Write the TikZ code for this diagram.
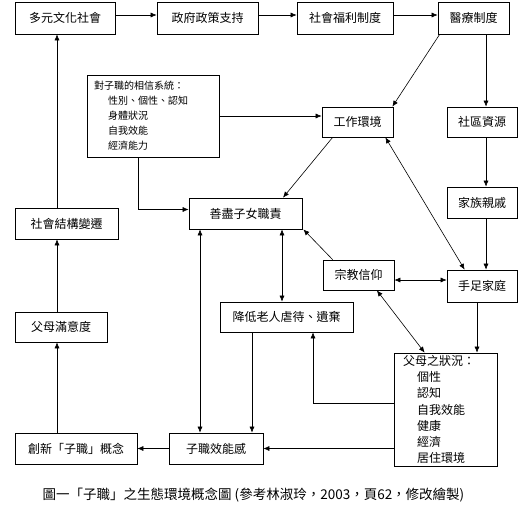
\documentclass[tikz,border=0pt]{standalone}
\usepackage{fontspec}
\setmainfont{Noto Sans CJK TC}
\usetikzlibrary{arrows.meta,calc}
\begin{document}
\begin{tikzpicture}[x=1pt,y=-1pt,
  box/.style={draw,line width=0.7pt,inner sep=0pt,font=\fontsize{12}{14}\selectfont},
  arr/.style={line width=0.6pt,-{Latex[length=6pt,width=5pt]}},
  darr/.style={line width=0.6pt,{Latex[length=6pt,width=5pt]}-{Latex[length=6pt,width=5pt]}}]
\useasboundingbox (0,0) rectangle (532,512);
% boxes
\node[box,minimum width=100pt,minimum height=32pt] (A) at (65,18) {多元文化社會};
\node[box,minimum width=101pt,minimum height=32pt] (B) at (207.5,18) {政府政策支持};
\node[box,minimum width=96pt,minimum height=32pt] (C) at (345,18) {社會福利制度};
\node[box,minimum width=71pt,minimum height=32pt] (D) at (473.5,18) {醫療制度};
\node[box,minimum width=132pt,minimum height=82pt,align=left,text width=118pt,
      font=\fontsize{10}{15}\selectfont] (E) at (153,116)
  {對子職的相信系統：\\
   \hspace*{14pt}性別、個性、認知\\
   \hspace*{14pt}身體狀況\\
   \hspace*{14pt}自我效能\\
   \hspace*{14pt}經濟能力};
\node[box,minimum width=71pt,minimum height=30pt] (F) at (357.5,122) {工作環境};
\node[box,minimum width=70pt,minimum height=30pt] (G) at (482,122) {社區資源};
\node[box,minimum width=70pt,minimum height=31pt] (H) at (482,202.5) {家族親戚};
\node[box,minimum width=103pt,minimum height=31pt] (I) at (66.5,223.5) {社會結構變遷};
\node[box,minimum width=113pt,minimum height=31pt] (J) at (245.5,213.5) {善盡子女職責};
\node[box,minimum width=71pt,minimum height=30pt] (K) at (358.5,275) {宗教信仰};
\node[box,minimum width=70pt,minimum height=32pt] (L) at (482,286) {手足家庭};
\node[box,minimum width=133pt,minimum height=30pt] (M) at (286.5,317) {降低老人虐待、遺棄};
\node[box,minimum width=92pt,minimum height=30pt] (N) at (61,327) {父母滿意度};
\node[box,minimum width=103pt,minimum height=113pt,align=left,text width=85pt,
      font=\fontsize{12}{16.2}\selectfont] (O) at (445.5,409.5)
  {父母之狀況：\\
   \hspace*{14pt}個性\\
   \hspace*{14pt}認知\\
   \hspace*{14pt}自我效能\\
   \hspace*{14pt}健康\\
   \hspace*{14pt}經濟\\
   \hspace*{14pt}居住環境};
\node[box,minimum width=122pt,minimum height=31pt] (P) at (76,448.5) {創新「子職」概念};
\node[box,minimum width=94pt,minimum height=31pt] (Q) at (216,448.5) {子職效能感};
\node[font=\fontsize{13.5}{15}\selectfont] (cap) at (253.5,495)
  {圖一「子職」之生態環境概念圖 (參考林淑玲，2003，頁62，修改繪製)};
% helper coordinates
\coordinate (vx) at (486,0);
\coordinate (lx) at (57,0);
\coordinate (ex) at (138,0);
\coordinate (jm) at (282,0);
\coordinate (jq) at (200,0);
\coordinate (mq) at (252,0);
\coordinate (om) at (313,403);
\coordinate (lo) at (477,0);
\coordinate (kl) at (0,280);
% connectors
\draw[arr] ([yshift=3pt]A.east) -- ([yshift=3pt]B.west);
\draw[arr] ([yshift=3pt]B.east) -- ([yshift=3pt]C.west);
\draw[arr] ([yshift=3pt]C.east) -- ([yshift=3pt]D.west);
\draw[arr] ([xshift=2pt]D.south west) -- ([xshift=-1pt]F.north east);
\draw[arr] (D.south -| vx) -- (G.north -| vx);
\draw[arr] (G.south -| vx) -- (H.north -| vx);
\draw[arr] (H.south -| vx) -- (L.north -| vx);
\draw[arr] (E.east) -- (E.east -| F.west);
\draw[arr] (E.south -| ex) |- ([yshift=4pt]J.west);
\draw[arr] ([xshift=11pt]F.south west) -- ([xshift=37.5pt]J.north);
\draw[darr] ([xshift=-8pt]F.south east) -- ([xshift=18pt]L.north west);
\draw[arr] ([xshift=10pt]K.north west) -- ([xshift=1pt]J.south east);
\draw[darr] (K.east |- kl) -- (L.west |- kl);
\draw[darr] (J.south -| jm) -- (M.north -| jm);
\draw[darr] (J.south -| jq) -- (Q.north -| jq);
\draw[darr] ([xshift=-17.5pt]K.south east) -- ([xshift=31pt]O.north west);
\draw[arr] (L.south -| lo) -- (O.north -| lo);
\draw[arr] (O.west |- om) -| (M.south -| om);
\draw[arr] (M.south -| mq) -- (Q.north -| mq);
\draw[arr] (O.west |- Q.east) -- (Q.east);
\draw[arr] (Q.west) -- (P.east);
\draw[arr] (P.north -| lx) -- (N.south -| lx);
\draw[arr] (N.north -| lx) -- (I.south -| lx);
\draw[arr] (I.north -| lx) -- (A.south -| lx);
\end{tikzpicture}
\end{document}
